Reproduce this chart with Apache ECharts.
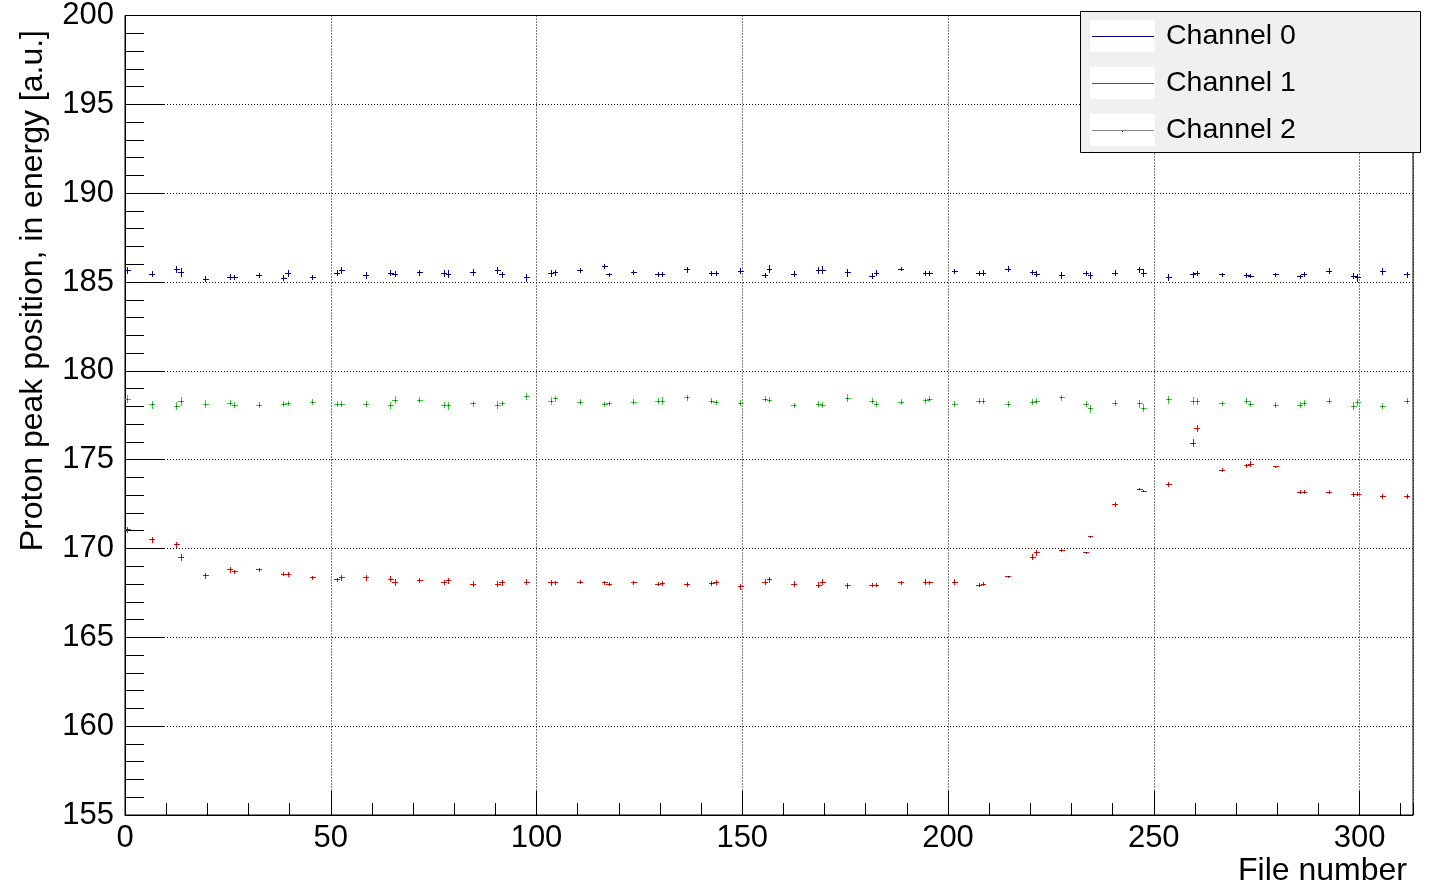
<!DOCTYPE html>
<html><head><meta charset="utf-8">
<script src="https://cdn.jsdelivr.net/npm/echarts@6/dist/echarts.min.js"></script>
<style>html,body{margin:0;padding:0;background:#fff}#c{width:1436px;height:891px}</style>
</head><body><div id="c"></div>
<script>
const fileNumber = [0.5, 6.5, 12.5, 13.5, 19.5, 25.5, 26.5, 32.5, 38.5, 39.5,
  45.5, 51.5, 52.5, 58.5, 64.5, 65.5, 71.5, 77.5, 78.5, 84.5,
  90.5, 91.5, 97.5, 103.5, 104.5, 110.5, 116.5, 117.5, 123.5, 129.5,
  130.5, 136.5, 142.5, 143.5, 149.5, 155.5, 156.5, 162.5, 168.5, 169.5,
  175.5, 181.5, 182.5, 188.5, 194.5, 195.5, 201.5, 207.5, 208.5, 214.5,
  220.5, 221.5, 227.5, 233.5, 234.5, 240.5, 246.5, 247.5, 253.5, 259.5,
  260.5, 266.5, 272.5, 273.5, 279.5, 285.5, 286.5, 292.5, 298.5, 299.5,
  305.5, 311.5];

const channel0 = [185.69, 185.47, 185.75, 185.56, 185.19, 185.30, 185.30, 185.38, 185.24, 185.52,
  185.28, 185.52, 185.66, 185.38, 185.52, 185.47, 185.54, 185.51, 185.47, 185.58,
  185.66, 185.43, 185.26, 185.52, 185.56, 185.66, 185.92, 185.43, 185.58, 185.43,
  185.45, 185.73, 185.52, 185.52, 185.64, 185.41, 185.75, 185.47, 185.69, 185.69,
  185.54, 185.36, 185.52, 185.75, 185.51, 185.51, 185.60, 185.52, 185.52, 185.75,
  185.58, 185.47, 185.41, 185.52, 185.38, 185.52, 185.71, 185.52, 185.30, 185.43,
  185.52, 185.43, 185.38, 185.36, 185.43, 185.32, 185.43, 185.64, 185.36, 185.26,
  185.62, 185.43];
const channel0Err = [0.16, 0.16, 0.16, 0.20, 0.16, 0.14, 0.12, 0.12, 0.14, 0.18,
  0.12, 0.14, 0.16, 0.16, 0.14, 0.16, 0.16, 0.16, 0.18, 0.16,
  0.16, 0.16, 0.18, 0.16, 0.14, 0.12, 0.12, 0.10, 0.12, 0.12,
  0.10, 0.14, 0.12, 0.12, 0.14, 0.12, 0.18, 0.16, 0.18, 0.20,
  0.18, 0.16, 0.14, 0.08, 0.10, 0.10, 0.12, 0.12, 0.14, 0.14,
  0.12, 0.16, 0.16, 0.12, 0.16, 0.14, 0.12, 0.20, 0.16, 0.14,
  0.12, 0.10, 0.10, 0.10, 0.10, 0.10, 0.12, 0.16, 0.14, 0.18,
  0.16, 0.14];

const channel1 = [171.07, 170.51, 170.24, 169.51, 168.50, 168.82, 168.71, 168.82, 168.59, 168.57,
  168.37, 168.26, 168.37, 168.37, 168.29, 168.11, 168.22, 168.12, 168.20, 168.01,
  168.03, 168.09, 168.14, 168.11, 168.09, 168.14, 168.09, 168.03, 168.09, 168.03,
  168.07, 167.99, 168.05, 168.11, 167.88, 168.14, 168.26, 168.03, 167.97, 168.14,
  167.92, 167.97, 167.97, 168.09, 168.14, 168.09, 168.14, 167.97, 168.03, 168.43,
  169.53, 169.79, 169.94, 169.79, 170.69, 172.52, 173.37, 173.26, 173.61, 175.96,
  176.80, 174.44, 174.68, 174.78, 174.62, 173.20, 173.20, 173.20, 173.07, 173.09,
  172.97, 172.97];
const channel1Err = [0.14, 0.14, 0.14, 0.18, 0.14, 0.12, 0.10, 0.10, 0.08, 0.10,
  0.10, 0.10, 0.12, 0.12, 0.14, 0.16, 0.12, 0.10, 0.12, 0.14,
  0.12, 0.14, 0.14, 0.14, 0.10, 0.10, 0.10, 0.10, 0.10, 0.10,
  0.12, 0.10, 0.10, 0.12, 0.14, 0.14, 0.14, 0.12, 0.12, 0.12,
  0.14, 0.10, 0.10, 0.10, 0.12, 0.10, 0.12, 0.10, 0.10, 0.04,
  0.14, 0.14, 0.10, 0.04, 0.04, 0.10, 0.04, 0.04, 0.12, 0.18,
  0.16, 0.10, 0.10, 0.12, 0.04, 0.10, 0.10, 0.10, 0.10, 0.10,
  0.10, 0.12];

const channel2 = [178.44, 178.12, 178.04, 178.29, 178.14, 178.21, 178.10, 178.10, 178.16, 178.21,
  178.27, 178.16, 178.16, 178.16, 178.06, 178.38, 178.38, 178.10, 178.06, 178.18,
  178.10, 178.19, 178.57, 178.33, 178.46, 178.27, 178.12, 178.21, 178.27, 178.31,
  178.33, 178.51, 178.33, 178.23, 178.21, 178.44, 178.38, 178.06, 178.16, 178.10,
  178.49, 178.33, 178.16, 178.27, 178.34, 178.44, 178.16, 178.33, 178.33, 178.16,
  178.27, 178.33, 178.51, 178.16, 177.89, 178.21, 178.18, 177.93, 178.40, 178.33,
  178.29, 178.21, 178.33, 178.16, 178.10, 178.10, 178.21, 178.33, 178.04, 178.25,
  178.04, 178.33];
const channel2Err = [0.20, 0.20, 0.20, 0.24, 0.20, 0.14, 0.14, 0.12, 0.12, 0.12,
  0.12, 0.12, 0.12, 0.16, 0.18, 0.18, 0.12, 0.16, 0.20, 0.14,
  0.20, 0.14, 0.18, 0.20, 0.14, 0.12, 0.12, 0.12, 0.12, 0.14,
  0.18, 0.14, 0.14, 0.12, 0.14, 0.16, 0.16, 0.12, 0.14, 0.16,
  0.18, 0.16, 0.12, 0.12, 0.14, 0.12, 0.12, 0.14, 0.14, 0.12,
  0.16, 0.16, 0.14, 0.16, 0.20, 0.16, 0.20, 0.20, 0.20, 0.20,
  0.16, 0.12, 0.14, 0.14, 0.12, 0.14, 0.16, 0.16, 0.20, 0.16,
  0.14, 0.16];

const seriesNames = ['Channel 0', 'Channel 1', 'Channel 2'];
const X_HALF = 0.6;          // horizontal error half-width (file units)
const yTitle = 'Proton peak position, in energy [a.u.]';
const xTitle = 'File number';

const FONT = '"Liberation Sans", Arial, Helvetica, sans-serif';
const COLORS = ['#000099', '#ff0000', '#33cc33'];
const LEGEND_LINE = ['#000099', '#ff0000', '#888888'];

function toData(ys, errs) { return fileNumber.map((x, i) => [x, ys[i], errs[i]]); }

function makeRender(color) {
  return function (params, api) {
    const x = api.value(0), y = api.value(1), e = api.value(2);
    const c = api.coord([x, y]);
    const l = api.coord([x - X_HALF, y]), r = api.coord([x + X_HALF, y]);
    const t = api.coord([x, y + e]), b = api.coord([x, y - e]);
    const cx = Math.round(c[0]) + 0.5, cy = Math.round(c[1]) + 0.5;
    return {
      type: 'group',
      children: [
        { type: 'line', shape: { x1: Math.round(l[0]), y1: cy, x2: Math.round(r[0]) + 1, y2: cy }, style: { stroke: color, lineWidth: 1 } },
        { type: 'line', shape: { x1: cx, y1: Math.round(t[1]), x2: cx, y2: Math.round(b[1]) + 1 }, style: { stroke: color, lineWidth: 1 } },
        { type: 'rect', shape: { x: cx - 0.5, y: cy - 0.5, width: 1, height: 1 }, style: { fill: '#000' } }
      ]
    };
  };
}

const chart = echarts.init(document.getElementById('c'), null, { renderer: 'canvas' });
const dataSets = [toData(channel0, channel0Err), toData(channel1, channel1Err), toData(channel2, channel2Err)];

const option = {
  animation: false,
  backgroundColor: '#ffffff',
  grid: { left: 125, right: 23, top: 15, bottom: 76, show: true, borderColor: '#000', borderWidth: 1, backgroundColor: 'transparent', containLabel: false },
  xAxis: [
    {
      type: 'value', min: 0, max: 313, interval: 10, position: 'bottom',
      axisLine: { show: true, onZero: false, lineStyle: { color: '#000', width: 1 } },
      axisTick: { show: true, inside: true, length: 12, lineStyle: { color: '#000' } },
      axisLabel: { show: false }, splitLine: { show: false }
    },
    {
      type: 'value', min: 0, max: 313, interval: 50, position: 'bottom',
      axisLine: { show: false, onZero: false },
      axisTick: { show: true, inside: true, length: 24, lineStyle: { color: '#000' } },
      axisLabel: { show: true, fontSize: 31, fontFamily: FONT, color: '#000', margin: 8, showMaxLabel: false },
      splitLine: { show: true, lineStyle: { color: '#000', type: [1, 2], width: 1 } }
    }
  ],
  yAxis: {
    type: 'value', min: 155, max: 200, interval: 5,
    axisLine: { show: true, onZero: false, lineStyle: { color: '#000', width: 1 } },
    axisTick: { show: true, inside: true, length: 39, lineStyle: { color: '#000' } },
    minorTick: { show: true, splitNumber: 5, length: 19, lineStyle: { color: '#000' } },
    axisLabel: { fontSize: 31, fontFamily: FONT, color: '#000', margin: 11 },
    splitLine: { show: true, lineStyle: { color: '#000', type: [1, 2], width: 1 } }
  },
  legend: {
    orient: 'vertical', left: 1092, top: 21.5, padding: 0, itemWidth: 62, itemHeight: 1, itemGap: 17,
    selectedMode: false, icon: 'rect', z: 6,
    textStyle: { fontSize: 28.5, fontFamily: FONT, color: '#000', lineHeight: 30, padding: [0, 0, 0, 7] },
    data: seriesNames.map((n, i) => ({ name: n, icon: 'rect', itemStyle: { color: LEGEND_LINE[i] } }))
  },
  graphic: [
    { type: 'rect', z: 5, shape: { x: 1080.5, y: 11.5, width: 340, height: 141 }, style: { fill: '#f0f0f0', stroke: '#000', lineWidth: 1 } },
    { type: 'rect', z: 5, z2: 1, shape: { x: 1090, y: 20, width: 65, height: 32 }, style: { fill: '#fff' } },
    { type: 'rect', z: 5, z2: 1, shape: { x: 1090, y: 67, width: 65, height: 32 }, style: { fill: '#fff' } },
    { type: 'rect', z: 5, z2: 1, shape: { x: 1090, y: 114, width: 65, height: 32 }, style: { fill: '#fff' } },
    { type: 'rect', z: 7, shape: { x: 1122, y: 131, width: 1, height: 1 }, style: { fill: '#000' } },
    { type: 'text', z: 5, x: 33, y: 30, rotation: Math.PI / 2, style: { text: yTitle, fontSize: 32, fontFamily: FONT, fill: '#000', align: 'right', verticalAlign: 'middle' } },
    { type: 'text', z: 5, x: 1407, y: 871, style: { text: xTitle, fontSize: 32, fontFamily: FONT, fill: '#000', align: 'right', verticalAlign: 'middle' } }
  ],
  series: seriesNames.map((n, i) => ({
    name: n, type: 'custom', xAxisIndex: 1, yAxisIndex: 0, clip: true,
    itemStyle: { color: COLORS[i] },
    encode: { x: 0, y: 1 },
    renderItem: makeRender(COLORS[i]),
    data: dataSets[i]
  }))
};
chart.setOption(option);
</script>
</body></html>
